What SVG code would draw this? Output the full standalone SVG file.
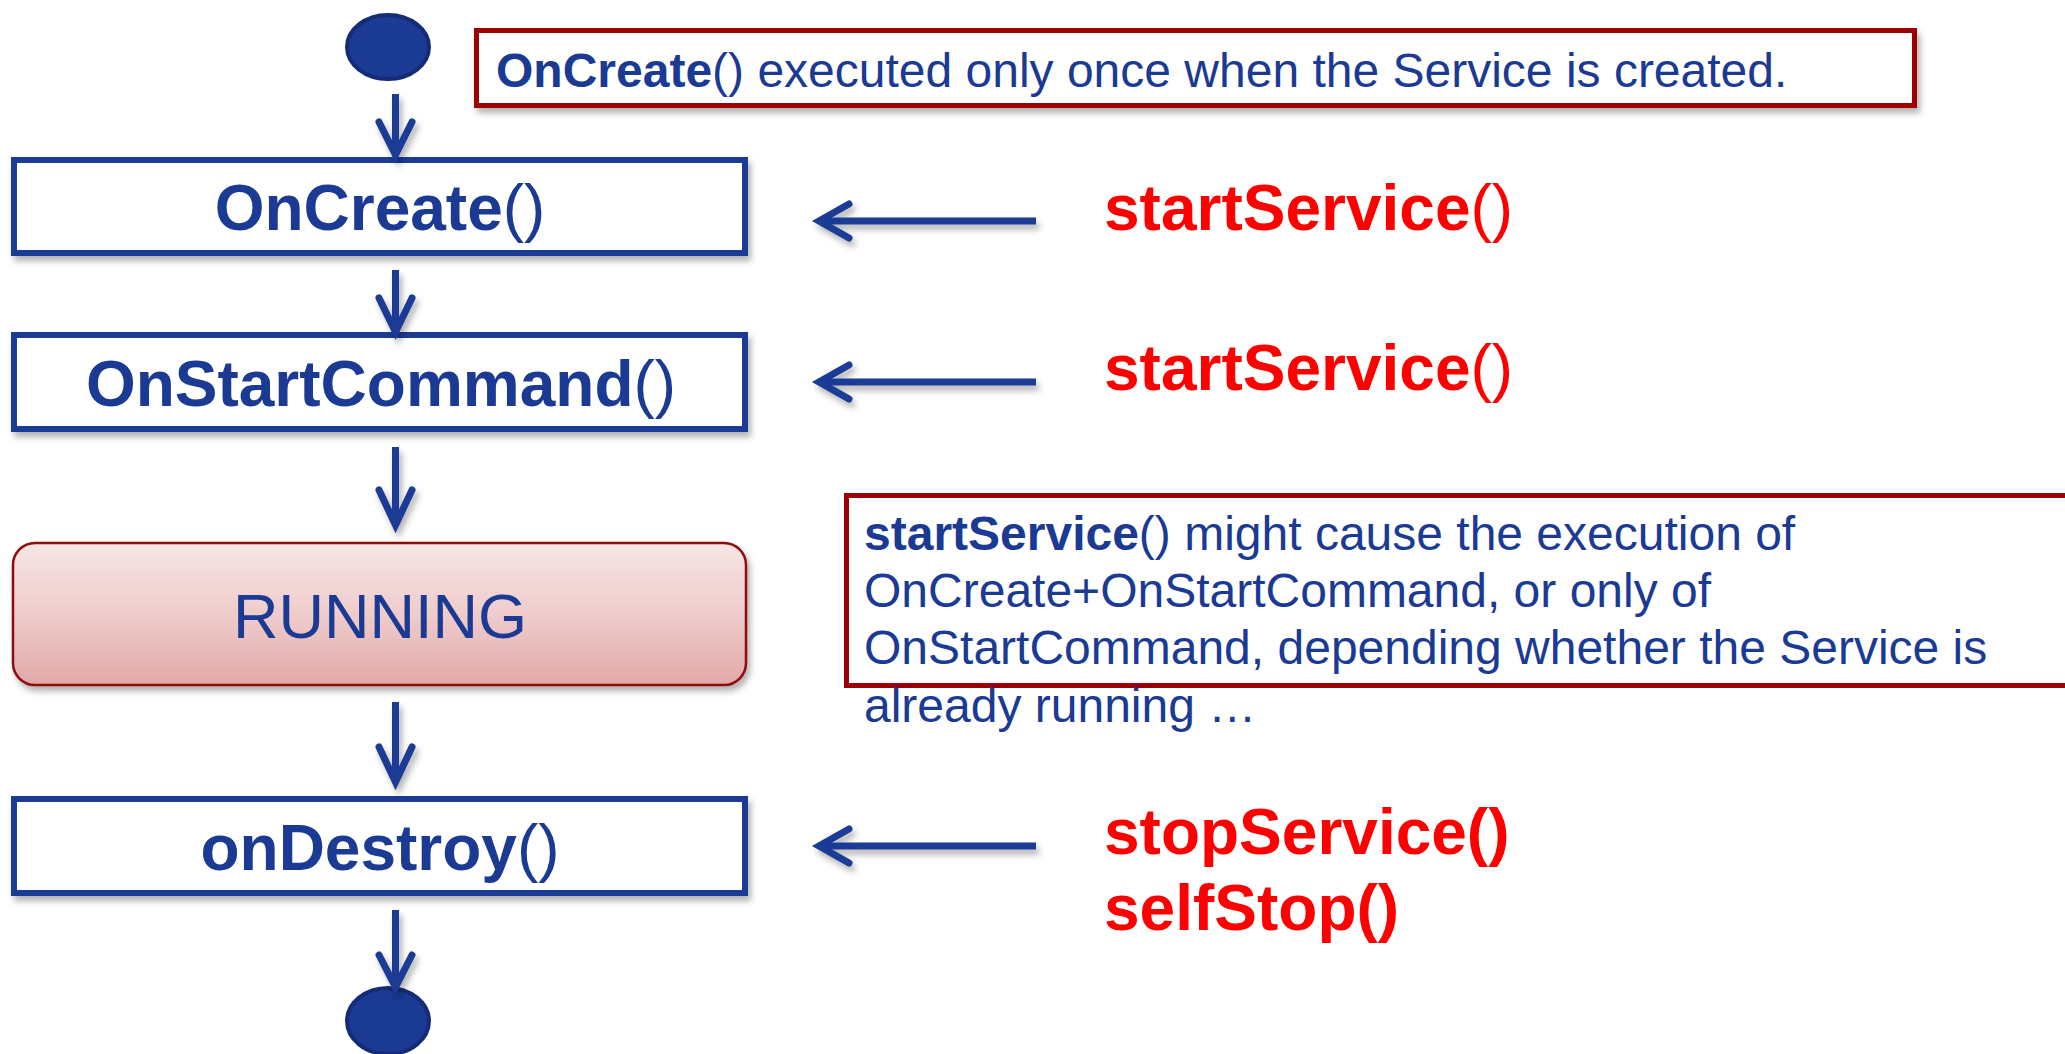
<svg xmlns="http://www.w3.org/2000/svg" width="2065" height="1054" viewBox="0 0 2065 1054">
  <style>
    text { font-family: "Liberation Sans", Arial, sans-serif; }
    .step { fill: #ffffff; stroke: #1a3a94; stroke-width: 6; }
    .stepLabel { font-size: 64px; fill: #1a3a94; text-anchor: middle; }
    .b { font-weight: bold; }
    .n { font-weight: normal; }
    .note { fill: #ffffff; stroke: #9c0006; stroke-width: 5; }
    .noteText { font-size: 48px; fill: #1a3a94; }
    .call { font-size: 64px; fill: #ff0000; font-weight: bold; }
    .flow { stroke: #1a3a94; stroke-width: 7; fill: none; stroke-linejoin: miter; }
    .head { stroke: #1a3a94; stroke-width: 7; fill: none; stroke-linecap: round; stroke-linejoin: miter; }
    .dot { fill: #1a3a94; stroke: #142c76; stroke-width: 4; }
  </style>
  <defs>
    <filter id="shadow" x="-20%" y="-20%" width="140%" height="160%">
      <feDropShadow dx="3" dy="5" stdDeviation="3" flood-color="#000" flood-opacity="0.3"/>
    </filter>
    <linearGradient id="runFill" x1="0" y1="0" x2="0" y2="1">
      <stop offset="0" stop-color="#f7e6e6"/>
      <stop offset="0.5" stop-color="#efcccc"/>
      <stop offset="1" stop-color="#e2a8a8"/>
    </linearGradient>
  </defs>

  <rect width="2065" height="1054" fill="#ffffff"/>

  <!-- notes -->
  <g id="note-oncreate">
    <rect class="note" x="476.5" y="30.5" width="1438" height="75" filter="url(#shadow)"/>
    <text class="noteText" x="496" y="87"><tspan class="b">OnCreate</tspan>() executed only once when the Service is created.</text>
  </g>

  <g id="note-startservice">
    <rect class="note" x="846.5" y="495.5" width="1300" height="190"/>
    <text class="noteText" x="864" y="550"><tspan class="b">startService</tspan>() might cause the execution of</text>
    <text class="noteText" x="864" y="607">OnCreate+OnStartCommand, or only of</text>
    <text class="noteText" x="864" y="664">OnStartCommand, depending whether the Service is</text>
    <text class="noteText" x="864" y="722">already running …</text>
  </g>

  <!-- lifecycle nodes -->
  <g id="start">
    <ellipse class="dot" cx="388" cy="47" rx="41" ry="32"/>
  </g>

  <g id="oncreate">
    <rect class="step" x="14" y="160" width="731" height="93" filter="url(#shadow)"/>
    <text class="stepLabel" x="380" y="230"><tspan class="b">OnCreate</tspan><tspan class="n">()</tspan></text>
  </g>

  <g id="onstartcommand">
    <rect class="step" x="14" y="335" width="731" height="94" filter="url(#shadow)"/>
    <text class="stepLabel" x="381" y="406"><tspan class="b">OnStartCommand</tspan><tspan class="n">()</tspan></text>
  </g>

  <g id="running">
    <rect x="13" y="543" width="733" height="142" rx="22" ry="22" fill="url(#runFill)" stroke="#8e0b0b" stroke-width="2.5" filter="url(#shadow)"/>
    <text class="stepLabel" x="380" y="638" style="font-size:63px">RUNNING</text>
  </g>

  <g id="ondestroy">
    <rect class="step" x="14" y="799" width="731" height="94" filter="url(#shadow)"/>
    <text class="stepLabel" x="380" y="870"><tspan class="b">onDestroy</tspan><tspan class="n">()</tspan></text>
  </g>

  <g id="end">
    <ellipse class="dot" cx="388" cy="1021" rx="41" ry="33"/>
  </g>

  <!-- external calls -->
  <g id="call-start-1">
    <text class="call" x="1104" y="230">startService<tspan class="n">()</tspan></text>
  </g>
  <g id="call-start-2">
    <text class="call" x="1104" y="390">startService<tspan class="n">()</tspan></text>
  </g>
  <g id="call-stop">
    <text class="call" x="1104" y="854">stopService()</text>
    <text class="call" x="1104" y="930">selfStop()</text>
  </g>

  <!-- connectors -->
  <g id="connectors" filter="url(#shadow)">
    <!-- vertical flow -->
    <line class="flow" x1="395.5" y1="94" x2="395.5" y2="152"/>
    <path class="head" d="M379,122 L395.5,155 L412,122"/>

    <line class="flow" x1="395.5" y1="270" x2="395.5" y2="329"/>
    <path class="head" d="M379,298 L395.5,332 L412,298"/>

    <line class="flow" x1="395.5" y1="447" x2="395.5" y2="522"/>
    <path class="head" d="M379,490 L395.5,525 L412,490"/>

    <line class="flow" x1="395.5" y1="702" x2="395.5" y2="779"/>
    <path class="head" d="M379,747 L395.5,782 L412,747"/>

    <line class="flow" x1="395.5" y1="910" x2="395.5" y2="984"/>
    <path class="head" d="M379,955 L395.5,987 L412,955"/>

    <!-- incoming calls -->
    <line class="flow" x1="1036" y1="221" x2="822" y2="221"/>
    <path class="head" d="M849,204 L819,221 L849,238"/>

    <line class="flow" x1="1036" y1="382" x2="822" y2="382"/>
    <path class="head" d="M849,365 L819,382 L849,399"/>

    <line class="flow" x1="1036" y1="846" x2="822" y2="846"/>
    <path class="head" d="M849,829 L819,846 L849,863"/>
  </g>
</svg>
